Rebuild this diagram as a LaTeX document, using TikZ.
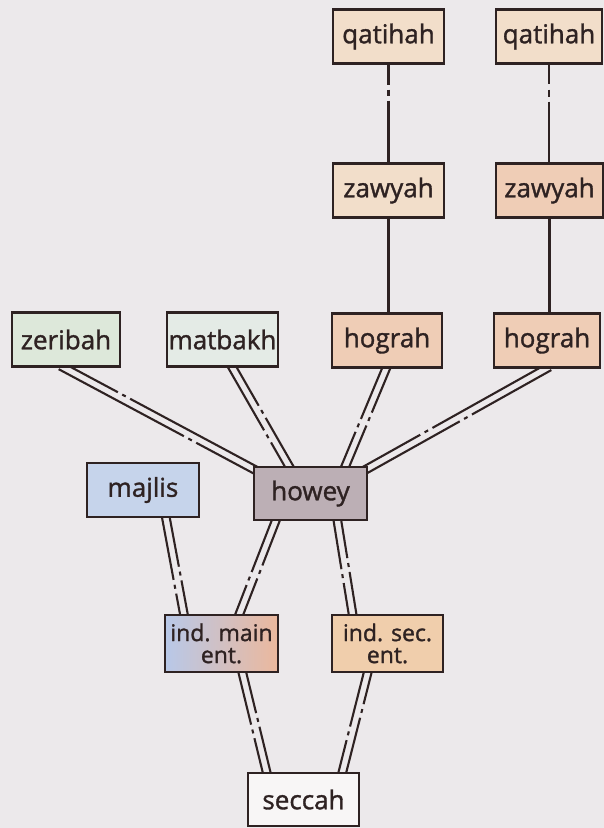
\documentclass[tikz,border=0pt]{standalone}
\usepackage{fontspec}
\setmainfont{Open Sans}
\newfontfamily\labfont{Open Sans}[FakeBold=1.3]
\usetikzlibrary{calc}
\definecolor{bgc}{HTML}{ECE9EB}
\definecolor{ink}{HTML}{2E2222}
\definecolor{warmA}{HTML}{F2DECA}
\definecolor{warmB}{HTML}{EFCDB6}
\definecolor{greenA}{HTML}{DDE8DA}
\definecolor{greenB}{HTML}{E4EBE6}
\definecolor{blueA}{HTML}{C6D4EB}
\definecolor{mauve}{HTML}{BCAFB5}
\definecolor{indL}{HTML}{B8C8E8}
\definecolor{indR}{HTML}{EBB89D}
\definecolor{indS}{HTML}{F0CEAC}
\definecolor{paper}{HTML}{F8F6F6}
\pgfdeclarelayer{bg}
\pgfdeclarelayer{lines}
\pgfsetlayers{bg,lines,main}
\tikzset{
  box/.style={draw=ink, line width=2.4pt, rectangle, inner sep=0pt, text=ink,
    minimum width=111pt, minimum height=54pt, font=\labfont\fontsize{26}{26}\selectfont},
  twoline/.style={align=center, font=\labfont\fontsize{23}{22}\selectfont},
  wire/.style={draw=ink, line width=2.1pt, shorten <=-4pt, shorten >=-4pt},
  wireone/.style={draw=ink, line width=2.2pt},
}
\newcommand\dconn[4]{%
  \draw[wire, dash pattern=on #3 off 5pt on 4pt off 5pt on 900pt]
    ($(#1)!3.8pt!90:(#2)$) -- ($(#2)!3.8pt!-90:(#1)$);
  \draw[wire, dash pattern=on #4 off 5pt on 4pt off 5pt on 900pt]
    ($(#1)!3.8pt!-90:(#2)$) -- ($(#2)!3.8pt!90:(#1)$);
}
\begin{document}
\begin{tikzpicture}[x=1pt, y=-1pt]
\useasboundingbox (0,0) rectangle (604,828);
\begin{pgfonlayer}{bg}
  \fill[bgc] (0,0) rectangle (604,828);
\end{pgfonlayer}

% nodes
\node[box, fill=warmA] (qat1) at (388.5,36.5) {qatihah};
\node[box, fill=warmA, minimum width=106pt] (qat2) at (549,36.5) {qatihah};
\node[box, fill=warmA] (zaw1) at (388.5,190.5) {zawyah};
\node[box, fill=warmB, minimum width=107pt] (zaw2) at (549.5,190.5) {zawyah};
\node[box, fill=greenA, minimum width=108pt] (zer) at (66,339.5) {zeribah};
\node[box, fill=greenB] (mat) at (222.5,339.5) {matbakh};
\node[box, fill=warmB, minimum width=110pt] (hog1) at (387,340.5) {hograh};
\node[box, fill=warmB, minimum width=106pt] (hog2) at (547,340.5) {hograh};
\node[box, fill=blueA, minimum width=112pt] (maj) at (143,490) {majlis};
\node[box, fill=mauve, minimum width=113pt, minimum height=53pt] (how) at (310.5,493.5) {howey};
\node[box, twoline, left color=indL, right color=indR, minimum width=113pt, minimum height=57pt] (indm) at (221.5,643.5) {ind. main\\ent.};
\node[box, twoline, fill=indS, minimum width=111pt, minimum height=57pt] (inds) at (387.5,643.5) {ind. sec.\\ent.};
\node[box, fill=paper, minimum height=53pt] (sec) at (303.5,799.5) {seccah};

% connector end points
\coordinate (e1a) at ($(zer.south)+(-2,0)$);
\coordinate (e1b) at ($(how.north west)+(2,4)$);
\coordinate (e2a) at ($(mat.south)+(10,0)$);
\coordinate (e2b) at ($(how.north west)+(36,0)$);
\coordinate (e3a) at ($(hog1.south)+(-1,0)$);
\coordinate (e3b) at ($(how.north)+(35,0)$);
\coordinate (e4a) at ($(hog2.south)+(-1,0)$);
\coordinate (e4b) at ($(how.north east)+(-1,3)$);
\coordinate (e5a) at ($(maj.south)+(23,0)$);
\coordinate (e5b) at ($(indm.north west)+(20,0)$);
\coordinate (e6a) at ($(how.south)+(-35,0)$);
\coordinate (e6b) at ($(indm.north)+(18,0)$);
\coordinate (e7a) at ($(how.south)+(27,0)$);
\coordinate (e7b) at ($(inds.north)+(-35,0)$);
\coordinate (e8a) at ($(indm.south)+(21,0)$);
\coordinate (e8b) at ($(sec.north)+(-37,0)$);
\coordinate (e9a) at ($(inds.south)+(-20,0)$);
\coordinate (e9b) at ($(sec.north)+(39,0)$);

\begin{pgfonlayer}{lines}
  \draw[wireone, dash pattern=on 20pt off 5pt on 6pt off 5pt on 300pt] (qat1.south) -- (qat1.south |- zaw1.north);
  \draw[wireone, dash pattern=on 19pt off 6pt on 7pt off 5pt on 300pt] (qat2.south) -- (qat2.south |- zaw2.north);
  \draw[wireone] (zaw1.south) -- (zaw1.south |- hog1.north);
  \draw[wireone] (zaw2.south) -- (zaw2.south |- hog2.north);
  \dconn{e1a}{e1b}{63pt}{142pt}
  \dconn{e2a}{e2b}{50pt}{74pt}
  \dconn{e3a}{e3b}{50pt}{60pt}
  \dconn{e4a}{e4b}{91pt}{132pt}
  \dconn{e5a}{e5b}{54pt}{66pt}
  \dconn{e6a}{e6b}{50pt}{60pt}
  \dconn{e7a}{e7b}{42pt}{52pt}
  \dconn{e8a}{e8b}{46pt}{56pt}
  \dconn{e9a}{e9b}{35pt}{60pt}
\end{pgfonlayer}
\end{tikzpicture}
\end{document}
